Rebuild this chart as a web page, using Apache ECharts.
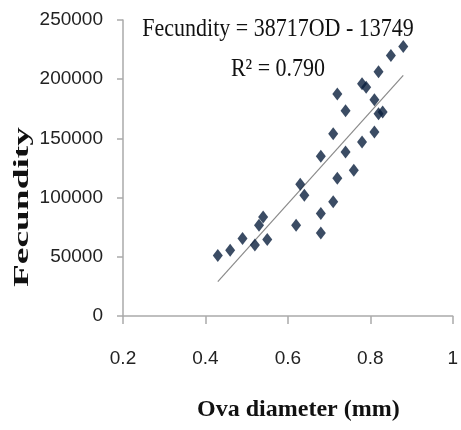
<!DOCTYPE html>
<html>
<head>
<meta charset="utf-8">
<script src="https://cdn.jsdelivr.net/npm/echarts@6/dist/echarts.min.js"></script>
<style>
  html, body { margin: 0; padding: 0; background: #fff; }
  #chart { width: 461px; height: 430px; }
</style>
</head>
<body>
<div id="chart"></div>
<script>
// ova diameter (mm) vs fecundity
const ovaDiameter = [0.43, 0.46, 0.49, 0.52, 0.53, 0.54, 0.55, 0.62, 0.63, 0.64,
  0.68, 0.68, 0.68, 0.71, 0.72, 0.71, 0.72, 0.74, 0.74, 0.76,
  0.78, 0.78, 0.79, 0.81, 0.81, 0.82, 0.83, 0.82, 0.85, 0.88]
const fecundity = [51000, 55600, 65500, 60000, 76700, 83700, 64700, 76700, 111300, 102000,
  70200, 86600, 134900, 96400, 116400, 154000, 187600, 173300, 138500, 123100,
  147000, 196200, 193300, 182700, 155400, 170900, 172300, 206200, 220100, 227700]

// linear trend as drawn (y = slope * x + intercept) over the data range
const trendSlope = 387170
const trendIntercept = -137490
const trendRange = [0.43, 0.88]

const xTicks = [0.2, 0.4, 0.6, 0.8, 1]
const yTicks = [0, 50000, 100000, 150000, 200000, 250000]

const equationText = 'Fecundity = 38717OD - 13749'
const r2Text = 'R² = 0.790'

const chart = echarts.init(document.getElementById('chart'))
const labelFont = { color: '#222', fontSize: 19, fontFamily: 'Liberation Sans, Arial, sans-serif' }

chart.setOption({
  backgroundColor: '#fff',
  animation: false,
  grid: { left: 123, right: 7, top: 20, bottom: 114 },
  xAxis: {
    type: 'value', min: xTicks[0], max: xTicks[xTicks.length - 1], interval: 0.2,
    name: 'Ova diameter (mm)', nameLocation: 'middle', nameGap: 82,
    nameTextStyle: { color: '#111', fontSize: 24, fontWeight: 'bold', fontFamily: 'Liberation Serif, Times New Roman, serif', padding: [0, 0, 0, 21] },
    axisLine: { lineStyle: { color: '#aaa', width: 1.5 } },
    axisTick: { show: true, length: 8, lineStyle: { color: '#aaa', width: 1.5 } },
    axisLabel: { ...labelFont, margin: 33, formatter: v => String(+v.toFixed(1)) },
    splitLine: { show: false }
  },
  yAxis: {
    type: 'value', min: yTicks[0], max: yTicks[yTicks.length - 1], interval: 50000,
    axisLine: { show: true, lineStyle: { color: '#aaa', width: 1.5 } },
    axisTick: { show: true, length: 6, lineStyle: { color: '#aaa', width: 1.5 } },
    axisLabel: { ...labelFont, margin: 20, formatter: v => String(v) },
    splitLine: { show: false }
  },
  graphic: [
    {
      type: 'text', x: 278, y: 30, scaleY: 1.12,
      style: { text: equationText, fill: '#111', font: '22px "Liberation Serif", "Times New Roman", serif', align: 'center', verticalAlign: 'middle' }
    },
    {
      type: 'text', x: 278, y: 70, scaleY: 1.12,
      style: { text: r2Text, fill: '#111', font: '22px "Liberation Serif", "Times New Roman", serif', align: 'center', verticalAlign: 'middle' }
    },
    {
      type: 'text', x: 22, y: 207, rotation: Math.PI / 2, scaleX: 1.7,
      style: { text: 'Fecundity', fill: '#111', font: 'bold 22px "Liberation Serif", "Times New Roman", serif', align: 'center', verticalAlign: 'middle' }
    }
  ],
  series: [
    {
      type: 'scatter',
      data: ovaDiameter.map((x, i) => [x, fecundity[i]]),
      symbol: 'diamond', symbolSize: [10, 13],
      itemStyle: { color: '#0a1f3d' },
      z: 3
    },
    {
      type: 'line',
      data: trendRange.map(x => [x, trendSlope * x + trendIntercept]),
      symbol: 'none',
      lineStyle: { color: '#8a8a8a', width: 1.2 },
      z: 2
    }
  ]
})
</script>
</body>
</html>
